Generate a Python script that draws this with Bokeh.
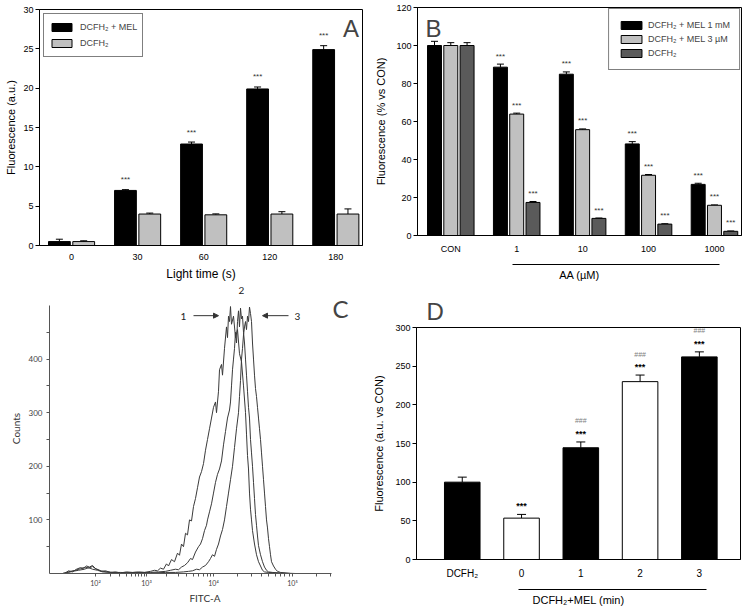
from bokeh.plotting import figure
from bokeh.layouts import row, column
from bokeh.models import (ColumnDataSource, FixedTicker, Whisker, TeeHead, Legend,
                          LinearAxis, Label, Arrow, NormalHead, Range1d)
from bokeh.core.properties import value
from bokeh.embed import file_html
from bokeh.resources import INLINE

ARIAL = "Liberation Sans"
CAL = "Lato"

# ---------------- data ----------------
# Panel A
a_times = ["0", "30", "60", "120", "180"]
a_mel = [0.5, 7.0, 12.9, 19.9, 24.9]
a_mel_err = [0.3, 0.1, 0.25, 0.25, 0.5]
a_dcfh = [0.5, 4.0, 3.9, 4.0, 4.0]
a_dcfh_err = [0.1, 0.12, 0.12, 0.3, 0.65]
a_mel_sig = ["", "***", "***", "***", "***"]

# Panel B
b_conc = ["CON", "1", "10", "100", "1000"]
b_mel1 = [100, 88.6, 84.9, 48.2, 26.9]
b_mel1_err = [2.2, 1.6, 1.2, 1.2, 0.6]
b_mel3 = [100, 63.9, 55.7, 31.7, 15.9]
b_mel3_err = [1.5, 0.5, 0.4, 0.4, 0.2]
b_dcfh = [100, 17.4, 9.0, 6.0, 2.2]
b_dcfh_err = [1.5, 0.5, 0.2, 0.2, 0.2]
b_sig = ["", "***", "***", "***", "***"]

# Panel C (flow cytometry histograms, display channel vs counts)
c1_ch = [60, 76, 92, 108, 124, 136, 148, 160, 172, 184, 196, 208, 224, 244, 264, 284, 308, 332, 356, 380,
         404, 420, 432, 444, 456, 468, 476, 488, 500, 512, 520, 528, 536, 544, 552, 560, 568, 576, 584, 592,
         600, 608, 616, 624, 632, 640, 648, 656, 664, 668, 676, 680, 688, 692, 700, 708, 712, 716, 720, 724,
         728, 736, 744, 752, 760, 768, 776, 784, 788, 792, 796, 800, 804, 808, 812, 820, 828, 836, 844, 852,
         860, 876, 904, 944]
c1_counts = [0, 5, 3, 8, 11, 9, 14, 12, 15, 9, 7, 4, 5, 2, 3, 1, 3, 2, 3, 2,
             4, 6, 5, 10, 8, 18, 14, 26, 22, 38, 34, 55, 50, 75, 72, 100, 98, 125, 140, 160,
             180, 190, 205, 230, 250, 270, 290, 310, 320, 300, 340, 380, 390, 370, 420, 460, 440, 480, 470, 498,
             465, 480, 440, 455, 410, 395, 350, 300, 260, 220, 195, 150, 120, 100, 80, 55, 35, 22, 14, 6,
             3, 2, 1, 0]
c2_ch = [52, 68, 84, 104, 124, 144, 156, 172, 188, 204, 228, 252, 284, 324, 364, 404, 436, 464, 484, 504,
         516, 528, 540, 552, 564, 572, 584, 596, 604, 612, 620, 628, 632, 640, 648, 656, 664, 672, 680, 688,
         696, 704, 712, 720, 724, 728, 732, 736, 740, 744, 748, 752, 756, 760, 764, 768, 772, 776, 780, 784,
         788, 792, 796, 800, 804, 808, 812, 816, 820, 824, 828, 832, 836, 844, 852, 860, 868, 876, 892, 924,
         984]
c2_counts = [0, 2, 4, 6, 9, 12, 10, 13, 8, 5, 3, 2, 2, 1, 2, 2, 3, 4, 6, 8,
             7, 12, 15, 20, 28, 26, 40, 50, 55, 65, 80, 90, 100, 115, 130, 150, 170, 185, 195, 210,
             240, 265, 290, 305, 320, 350, 380, 400, 420, 450, 430, 470, 490, 460, 495, 475, 480, 450, 430, 400,
             370, 340, 310, 290, 250, 225, 200, 170, 140, 110, 90, 70, 52, 35, 22, 12, 6, 3, 2, 1,
             0]
c3_ch = [52, 76, 92, 116, 140, 156, 172, 192, 212, 244, 284, 344, 404, 464, 504, 536, 556, 572, 588, 600,
         612, 624, 636, 644, 652, 660, 668, 676, 684, 692, 700, 708, 716, 724, 732, 740, 748, 756, 760, 764,
         768, 772, 776, 780, 784, 788, 792, 796, 800, 804, 808, 812, 816, 820, 824, 828, 832, 836, 840, 844,
         848, 852, 856, 860, 864, 868, 872, 876, 880, 884, 888, 896, 904, 912, 924, 964]
c3_counts = [0, 2, 4, 6, 8, 11, 8, 6, 3, 2, 1, 2, 1, 2, 2, 3, 4, 5, 8, 7,
             12, 15, 22, 28, 35, 32, 45, 55, 70, 82, 100, 125, 150, 175, 200, 235, 270, 300, 330, 360,
             400, 420, 445, 460, 470, 455, 480, 470, 497, 485, 470, 430, 400, 370, 345, 330, 310, 290, 270, 250,
             225, 200, 175, 150, 125, 100, 85, 65, 50, 35, 22, 14, 8, 4, 2, 0]
c_tick_pos = [184, 388, 656, 972]
c_tick_labels = ["10²", "10³", "10⁴", "10⁵"]
c_minor_pos = [245, 281, 307, 327, 343, 356, 368, 379,
               469, 516, 549, 575, 597, 614, 630, 644,
               751, 807, 846, 877, 902, 923, 941, 958, 1067, 1123]
c_count_ticks = [100, 200, 300, 400]
c_count_minor = [50, 150, 250, 350, 450]

# Panel D
d_labels = ["DCFH₂", "0", "1", "2", "3"]
d_vals = [100, 53.5, 144.5, 230, 262]
d_err = [6.5, 4.8, 7.5, 8.5, 6.5]
d_sig_star = ["", "***", "***", "***", "***"]
d_sig_hash = ["", "", "###", "###", "###"]


def base_fig(w, h, xr, yr, bl, br, bt, bb):
    p = figure(width=w, height=h, x_range=xr, y_range=yr, output_backend="svg",
               toolbar_location=None, min_border_left=bl, min_border_right=br,
               min_border_top=bt, min_border_bottom=bb)
    p.grid.visible = False
    p.outline_line_color = "black"
    p.outline_line_alpha = 1.0
    p.background_fill_color = "white"
    p.border_fill_color = "white"
    return p


def style_axes(p, font, size="9px"):
    for ax in p.axis:
        ax.axis_line_color = "black"
        ax.major_tick_line_color = "black"
        ax.minor_tick_line_color = None
        ax.major_tick_in = 0
        ax.major_tick_out = 4
        ax.major_label_text_font = font
        ax.major_label_text_font_size = size
        ax.major_label_text_color = "black"
        ax.axis_label_text_font = font
        ax.axis_label_text_font_style = "normal"
        ax.axis_label_text_color = "black"
        ax.axis_label_text_font_size = "11px"


def spacer_label(ax, px):
    # a blank axis label that only adds vertical room below the tick labels
    ax.axis_label = "\u00a0"
    ax.axis_label_text_font_size = px
    ax.axis_label_standoff = 0


def bracket_axis(p, bounds, label, font, standoff, size="11px"):
    ax = LinearAxis(bounds=bounds, ticker=FixedTicker(ticks=[]), axis_label=label)
    ax.major_tick_out = 0
    ax.major_tick_in = 0
    ax.minor_tick_out = 0
    ax.minor_tick_in = 0
    ax.major_label_text_font_size = "0px"
    ax.axis_line_color = "black"
    ax.axis_label_text_font = font
    ax.axis_label_text_font_size = size
    ax.axis_label_text_font_style = "normal"
    ax.axis_label_text_color = "black"
    ax.axis_label_standoff = standoff
    p.add_layout(ax, "below")


def whisker(p, xs, lows, ups, size):
    src = ColumnDataSource(dict(x=xs, lower=lows, upper=ups))
    w = Whisker(base="x", lower="lower", upper="upper", source=src,
                lower_head=None, upper_head=TeeHead(size=size, line_color="black"),
                line_color="black")
    p.add_layout(w)


# ---------------- Panel A ----------------
pA = base_fig(370, 283, Range1d(-0.485, 4.404), Range1d(0, 30), 39, 8, 9, 36)
xa = list(range(len(a_times)))
xa_m = [i - 0.184 for i in xa]
xa_d = [i + 0.184 for i in xa]
srcA = ColumnDataSource(dict(xm=xa_m, xd=xa_d, mel=a_mel, dcfh=a_dcfh,
                             mel_up=[v + e for v, e in zip(a_mel, a_mel_err)],
                             dcfh_up=[v + e for v, e in zip(a_dcfh, a_dcfh_err)],
                             sig=a_mel_sig))
rA1 = pA.vbar(x="xm", top="mel", width=0.33, source=srcA, fill_color="black", line_color="black")
rA2 = pA.vbar(x="xd", top="dcfh", width=0.33, source=srcA, fill_color="#c0c0c0", line_color="black")
whisker(pA, xa_m, a_mel, srcA.data["mel_up"], 7)
whisker(pA, xa_d, a_dcfh, srcA.data["dcfh_up"], 7)
pA.text(x="xm", y="mel_up", text="sig", source=srcA, text_align="center", text_baseline="middle",
        y_offset=-10, text_font=value(ARIAL), text_font_size="8px", text_color="#333333")
style_axes(pA, ARIAL)
pA.yaxis.ticker = FixedTicker(ticks=[0, 5, 10, 15, 20, 25, 30])
pA.yaxis.axis_label = "Fluorescence (a.u.)"
pA.yaxis.major_label_standoff = 2
pA.yaxis.axis_label_standoff = 3
pA.xaxis.ticker = FixedTicker(ticks=xa)
pA.xaxis.major_label_overrides = {i: t for i, t in enumerate(a_times)}
pA.xaxis.major_tick_out = 0
pA.xaxis.major_label_standoff = 8
pA.xaxis.axis_label = "Light time (s)"
pA.xaxis.axis_label_text_font_size = "12px"
pA.xaxis.axis_label_standoff = 4
legA = Legend(items=[("DCFH₂ + MEL", [rA1]), ("DCFH₂", [rA2])], location="top_left",
              border_line_color="black", border_line_width=1, background_fill_alpha=1.0,
              label_text_font=ARIAL, label_text_font_size="9px", glyph_width=25, glyph_height=10,
              label_height=16, spacing=0, padding=5, margin=4, label_standoff=6)
pA.add_layout(legA)
pA.add_layout(Label(x=4.23, y=27.6, text="A", text_font=ARIAL, text_font_size="24px",
                    text_align="center", text_baseline="middle"))

# ---------------- Panel B ----------------
pB = base_fig(376, 283, Range1d(-0.505, 4.41), Range1d(0, 120), 47, 5, 7, 41)
xb = list(range(len(b_conc)))
off = 0.247
xb1 = [i - off for i in xb]
xb2 = list(xb)
xb3 = [i + off for i in xb]
b1_up = [v + e for v, e in zip(b_mel1, b_mel1_err)]
b2_up = [v + e for v, e in zip(b_mel3, b_mel3_err)]
b3_up = [v + e for v, e in zip(b_dcfh, b_dcfh_err)]
rB1 = pB.vbar(x=xb1, top=b_mel1, width=0.212, fill_color="black", line_color="black")
rB2 = pB.vbar(x=xb2, top=b_mel3, width=0.212, fill_color="#c0c0c0", line_color="black")
rB3 = pB.vbar(x=xb3, top=b_dcfh, width=0.212, fill_color="#5a5a5a", line_color="black")
whisker(pB, xb1, b_mel1, b1_up, 7)
whisker(pB, xb2, b_mel3, b2_up, 7)
whisker(pB, xb3, b_dcfh, b3_up, 7)
for xs, ups in ((xb1, b1_up), (xb2, b2_up), (xb3, b3_up)):
    pB.text(x=xs, y=ups, text=b_sig, text_align="center", text_baseline="middle", y_offset=-8,
            text_font=value(ARIAL), text_font_size="8px", text_color="#333333")
style_axes(pB, ARIAL)
pB.yaxis.ticker = FixedTicker(ticks=[0, 20, 40, 60, 80, 100, 120])
pB.yaxis.axis_label = "Fluorescence (% vs CON)"
pB.yaxis.major_label_standoff = 2
pB.yaxis.axis_label_standoff = 6
pB.xaxis.ticker = FixedTicker(ticks=xb)
pB.xaxis.major_label_overrides = {i: t for i, t in enumerate(b_conc)}
pB.xaxis.major_tick_out = 0
pB.xaxis.major_label_standoff = 8
spacer_label(pB.xaxis[0], "4px")
bracket_axis(pB, (0.94, 4.08), "AA (µM)", ARIAL, 4)
legB = Legend(items=[("DCFH₂ + MEL 1 mM", [rB1]), ("DCFH₂ + MEL 3 µM", [rB2]), ("DCFH₂", [rB3])],
              location="top_right", border_line_color="black", border_line_width=1,
              background_fill_alpha=1.0, label_text_font=ARIAL, label_text_font_size="9px",
              glyph_width=26, glyph_height=10, label_height=14, spacing=0, padding=9, margin=1,
              label_standoff=4)
pB.add_layout(legB)
pB.add_layout(Label(x=-0.263, y=109, text="B", text_font=ARIAL, text_font_size="24px",
                    text_align="center", text_baseline="middle"))

# ---------------- Panel C ----------------
pC = base_fig(370, 325, Range1d(0, 1244), Range1d(0, 541), 49, 10, 0, 35)
pC.outline_line_color = None
for xs, ys in ((c1_ch, c1_counts), (c2_ch, c2_counts), (c3_ch, c3_counts)):
    pC.line(xs, ys, line_color="#3a3a3a", line_width=1)
style_axes(pC, CAL, "8px")
for ax in pC.axis:
    ax.axis_line_color = "#555555"
    ax.major_tick_line_color = "#555555"
    ax.minor_tick_line_color = "#555555"
    ax.major_tick_out = 3
    ax.minor_tick_out = 3
    ax.minor_tick_in = 0
    ax.major_label_text_color = "#444444"
    ax.axis_label_text_color = "#333333"
    ax.axis_label_text_font_size = "10px"
pC.xaxis.bounds = (0, 1128)
pC.yaxis.bounds = (0, 500)
pC.xaxis.ticker = FixedTicker(ticks=c_tick_pos, minor_ticks=c_minor_pos)
pC.xaxis.major_label_overrides = dict(zip(c_tick_pos, c_tick_labels))
pC.xaxis.major_label_text_font_size = "7px"
pC.xaxis.major_label_standoff = 2
pC.xaxis.axis_label = "FITC-A"
pC.xaxis.axis_label_standoff = 2
pC.yaxis.ticker = FixedTicker(ticks=c_count_ticks, minor_ticks=c_count_minor)
pC.yaxis.major_label_standoff = 4
pC.yaxis.axis_label = "Counts"
pC.yaxis.axis_label_standoff = 4
for t, x in (("1", 536), ("2", 768), ("3", 992)):
    pC.add_layout(Label(x=x, y=528 if t == "2" else 479, text=t, text_font=CAL,
                        text_font_size="10px", text_align="center", text_baseline="middle",
                        text_color="#222222"))
pC.add_layout(Arrow(x_start=576, y_start=481, x_end=676, y_end=481, line_color="#333333",
                    line_width=1, end=NormalHead(size=5, fill_color="#333333", line_color="#333333")))
pC.add_layout(Arrow(x_start=956, y_start=481, x_end=852, y_end=481, line_color="#333333",
                    line_width=1, end=NormalHead(size=5, fill_color="#333333", line_color="#333333")))
pC.add_layout(Label(x=1164, y=494, text="C", text_font=CAL, text_font_size="24px",
                    text_align="center", text_baseline="middle"))

# ---------------- Panel D ----------------
pD = base_fig(376, 325, Range1d(-0.772, 4.694), Range1d(0, 300), 44, 6, 44, 45)
pD.title.text = "D"
pD.title.text_font = ARIAL
pD.title.text_font_size = "24px"
pD.title.text_font_style = "normal"
pD.title.align = "left"
pD.title.offset = 10
pD.title.standoff = 6
xd = list(range(len(d_labels)))
d_up = [v + e for v, e in zip(d_vals, d_err)]
d_fill = ["black", "white", "black", "white", "black"]
pD.vbar(x=xd, top=d_vals, width=0.6, fill_color=d_fill, line_color="black")
whisker(pD, xd, d_vals, d_up, 9)
pD.text(x=xd, y=d_up, text=d_sig_star, text_align="center", text_baseline="middle", y_offset=-8,
        text_font=value(ARIAL), text_font_size="9px", text_font_style="bold", text_color="black")
pD.text(x=xd, y=d_up, text=d_sig_hash, text_align="center", text_baseline="middle", y_offset=-21,
        text_font=value(ARIAL), text_font_size="7px", text_color="#808080")
style_axes(pD, ARIAL)
pD.yaxis.ticker = FixedTicker(ticks=[0, 50, 100, 150, 200, 250, 300])
pD.yaxis.axis_label = "Fluorescence (a.u. vs CON)"
pD.yaxis.major_label_standoff = 2
pD.yaxis.axis_label_standoff = 7
pD.xaxis.ticker = FixedTicker(ticks=xd)
pD.xaxis.major_label_overrides = {i: t for i, t in enumerate(d_labels)}
pD.xaxis.major_tick_out = 0
pD.xaxis.major_label_standoff = 8
pD.xaxis.major_label_text_font_size = "10px"
spacer_label(pD.xaxis[0], "4px")
bracket_axis(pD, (0.945, 4.12), "DCFH₂+MEL (min)", ARIAL, 4)

layout = column(row(column(pA), column(pB)), row(column(pC), column(pD)))
open("out.html", "w").write(file_html(layout, INLINE, title="Figure"))
